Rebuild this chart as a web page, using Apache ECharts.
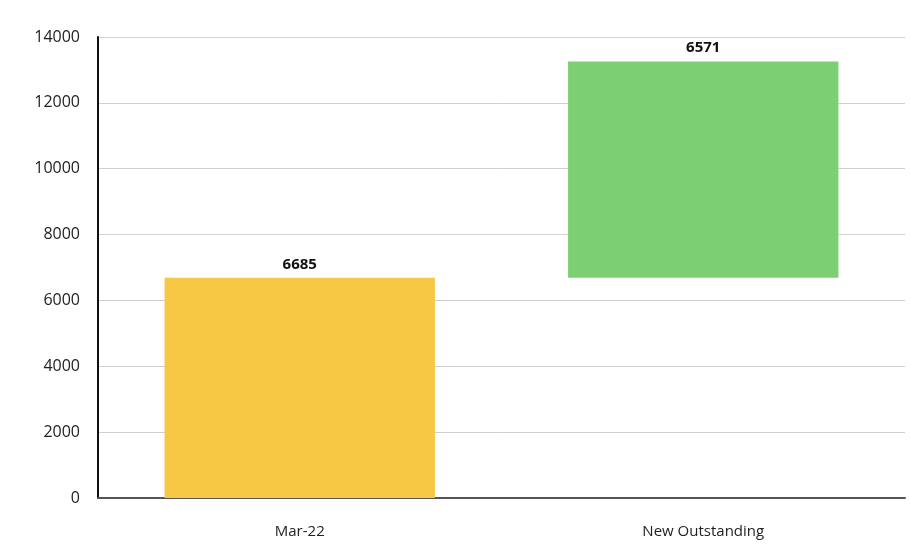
<!DOCTYPE html>
<html><head><meta charset="utf-8">
<script src="https://cdn.jsdelivr.net/npm/echarts@6/dist/echarts.min.js"></script>
<style>html,body{margin:0;padding:0;background:#fff}#c{width:910px;height:556px}</style>
</head><body><div id="c"></div>
<script>
var categories = ['Mar-22', 'New Outstanding'];
var baseValues = [0, 6685];
var barValues = [6685, 6571];
var barColors = ['#f6c843', '#7dcf74'];
var yTicks = { min: 0, max: 14000, interval: 2000 };

var chart = echarts.init(document.getElementById('c'));
chart.setOption({
  backgroundColor: '#ffffff',
  animation: false,
  grid: { left: 98, right: 5, top: 37, bottom: 58 },
  xAxis: {
    type: 'category', data: categories,
    axisLine: { lineStyle: { color: '#555', width: 2 } },
    axisTick: { show: false },
    axisLabel: { color: '#222', fontSize: 15, fontFamily: 'Open Sans, sans-serif', margin: 26 }
  },
  yAxis: {
    type: 'value', min: yTicks.min, max: yTicks.max, interval: yTicks.interval,
    axisLine: { show: true, lineStyle: { color: '#111', width: 2 } },
    axisTick: { show: false },
    splitLine: { lineStyle: { color: '#cfcfcf', width: 1 } },
    axisLabel: { color: '#222', fontSize: 16, fontFamily: 'Open Sans, sans-serif', margin: 18,
      formatter: function (v) { return String(v); } }
  },
  series: [
    { type: 'bar', stack: 'w', data: baseValues, itemStyle: { color: 'transparent' }, barWidth: '67%', silent: true },
    { type: 'bar', stack: 'w', barWidth: '67%',
      data: barValues.map(function (v, i) { return { value: v, itemStyle: { color: barColors[i] } }; }),
      label: { show: true, position: 'top', color: '#111', fontSize: 15, fontWeight: 'bold', fontFamily: 'Open Sans, sans-serif', distance: 6 }
    }
  ]
});
</script></body></html>
